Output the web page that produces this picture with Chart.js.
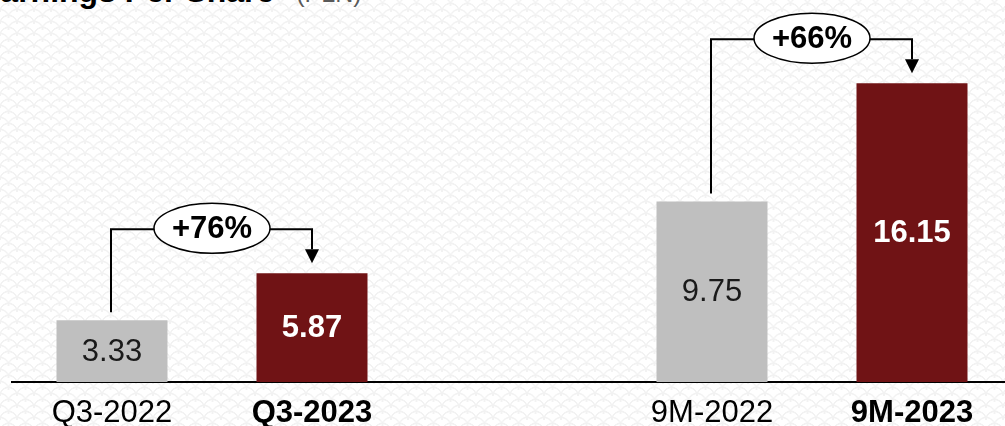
<!DOCTYPE html>
<html><head><meta charset="utf-8">
<script src="https://cdn.jsdelivr.net/npm/chart.js@4"></script>
<style>
html,body{margin:0;padding:0;width:1005px;height:426px;overflow:hidden;background:#fff;}
#bg{position:absolute;left:0;top:0;width:1005px;height:426px;
 background-image:radial-gradient(circle at 50% 100%, rgba(0,0,0,0) 7.5px, #f2f2f2 8px, #f2f2f2 9px, rgba(0,0,0,0) 9.5px),
 radial-gradient(circle at 50% 100%, rgba(0,0,0,0) 7.5px, #f2f2f2 8px, #f2f2f2 9px, rgba(0,0,0,0) 9.5px);
 background-size:17px 12px;background-position:0 0, 8.5px 6px;}
#wrap{position:absolute;left:0;top:0;width:1020px;height:426px;}
#title{position:absolute;left:-21px;top:-25px;line-height:32px;white-space:nowrap;font-family:"Liberation Sans",Arial,sans-serif;}
#title b{font-size:32px;color:#000;}
#title span{font-size:25px;color:#595959;margin-left:22px;}
</style></head>
<body>
<div id="bg"></div>
<div id="title"><b>Earnings Per Share</b><span>(PLN)</span></div>
<div id="wrap"><canvas id="c" width="1020" height="426"></canvas></div>
<script>
const categories = ['Q3-2022', 'Q3-2023', '', '9M-2022', '9M-2023'];
const eps = [3.33, 5.87, null, 9.75, 16.15];
const barColors = ['#bfbfbf', '#701315', 'rgba(0,0,0,0)', '#bfbfbf', '#701315'];
const valueColors = ['#1a1a1a', '#ffffff', '#000', '#1a1a1a', '#ffffff'];
const boldFlags = [false, true, false, false, true];
const growthFrom = [0, 3];
const growthTo = [1, 4];
const growthText = ['+76%', '+66%'];

const FONT = '"Liberation Sans", Arial, sans-serif';

const annotations = {
  id: 'annotations',
  afterDatasetsDraw(chart) {
    const ctx = chart.ctx;
    const meta = chart.getDatasetMeta(0);
    ctx.save();
    meta.data.forEach((bar, i) => {
      if (eps[i] == null) return;
      ctx.font = (boldFlags[i] ? 'bold ' : '') + '31px ' + FONT;
      ctx.fillStyle = valueColors[i];
      ctx.textAlign = 'center';
      ctx.textBaseline = 'middle';
      ctx.fillText(eps[i].toFixed(2), bar.x, (bar.y + bar.base) / 2 + 1);
    });
    growthFrom.forEach((fi, k) => {
      const a = meta.data[fi], b = meta.data[growthTo[k]];
      const yLine = b.y - 44;
      ctx.strokeStyle = '#000';
      ctx.lineWidth = 2;
      ctx.beginPath();
      ctx.moveTo(a.x - 1, a.y - 8);
      ctx.lineTo(a.x - 1, yLine);
      ctx.lineTo(b.x, yLine);
      ctx.lineTo(b.x, b.y - 24);
      ctx.stroke();
      ctx.fillStyle = '#000';
      ctx.beginPath();
      ctx.moveTo(b.x - 7, b.y - 24);
      ctx.lineTo(b.x + 7, b.y - 24);
      ctx.lineTo(b.x, b.y - 10);
      ctx.closePath();
      ctx.fill();
      const cx = (a.x + b.x) / 2, cy = yLine - 1;
      ctx.beginPath();
      ctx.ellipse(cx, cy, 58, 25, 0, 0, Math.PI * 2);
      ctx.fillStyle = '#fff';
      ctx.fill();
      ctx.lineWidth = 1.5;
      ctx.stroke();
      ctx.fillStyle = '#000';
      ctx.font = 'bold 31px ' + FONT;
      ctx.textAlign = 'center';
      ctx.textBaseline = 'middle';
      ctx.fillText(growthText[k], cx, cy + 1);
    });
    ctx.restore();
  }
};

new Chart(document.getElementById('c'), {
  type: 'bar',
  data: {
    labels: categories,
    datasets: [{
      data: eps,
      backgroundColor: barColors,
      borderWidth: 0,
      barPercentage: 0.555,
      categoryPercentage: 1.0
    }]
  },
  options: {
    responsive: false,
    animation: false,
    devicePixelRatio: 1,
    layout: { padding: { left: 12, right: 8, top: 12, bottom: -20 } },
    plugins: { legend: { display: false }, tooltip: { enabled: false } },
    scales: {
      x: {
        grid: { display: false, drawTicks: false },
        border: { display: true, color: '#000', width: 2 },
        ticks: {
          color: '#000',
          padding: 15,
          autoSkip: false,
          maxRotation: 0,
          font: (c) => ({ family: FONT, size: 31, lineHeight: 1.1, weight: boldFlags[c.index] ? 'bold' : 'normal' })
        }
      },
      y: { display: false, min: 0, max: 20 }
    }
  },
  plugins: [annotations]
});
</script>
</body></html>
